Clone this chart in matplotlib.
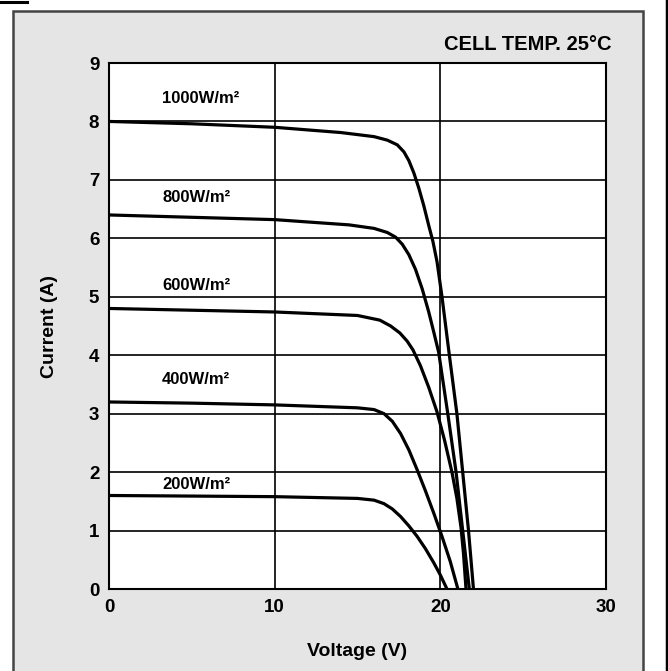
import matplotlib
matplotlib.use("Agg")
import matplotlib.pyplot as plt
from matplotlib.patches import Rectangle
from matplotlib.lines import Line2D

# ---- data ----
v_1000 = [0, 5, 10, 14, 16, 16.8, 17.4, 17.8, 18.1, 18.4, 18.7, 19.0, 19.3, 19.55, 19.8, 20.1, 20.5, 21.0, 21.35, 21.7, 22.0]
i_1000 = [8.0, 7.96, 7.9, 7.81, 7.74, 7.68, 7.6, 7.48, 7.33, 7.12, 6.86, 6.56, 6.22, 5.95, 5.6, 5.0, 4.1, 3.0, 2.0, 1.0, 0.0]

v_800 = [0, 5, 10, 14.5, 16, 16.8, 17.3, 17.7, 18.1, 18.5, 18.9, 19.3, 19.6, 19.9, 20.45, 20.95, 21.35, 21.75]
i_800 = [6.4, 6.36, 6.32, 6.23, 6.17, 6.1, 6.02, 5.9, 5.72, 5.47, 5.14, 4.74, 4.4, 4.05, 3.0, 2.0, 1.0, 0.0]

v_600 = [0, 5, 10, 15, 16.35, 17.0, 17.56, 18.0, 18.35, 18.8, 19.3, 19.8, 20.25, 20.7, 21.0, 21.25, 21.4, 21.55]
i_600 = [4.8, 4.77, 4.74, 4.68, 4.6, 4.5, 4.38, 4.24, 4.09, 3.82, 3.45, 3.03, 2.55, 2.0, 1.55, 1.05, 0.6, 0.0]

v_400 = [0, 5, 10, 15, 16, 16.6, 17.1, 17.6, 18.1, 18.6, 19.1, 19.6, 20.1, 20.6, 21.06]
i_400 = [3.2, 3.18, 3.15, 3.1, 3.07, 3.0, 2.87, 2.66, 2.38, 2.04, 1.68, 1.3, 0.9, 0.47, 0.0]

v_200 = [0, 5, 10, 15, 16, 16.6, 17.1, 17.6, 18.1, 18.6, 19.1, 19.6, 20.0, 20.4]
i_200 = [1.6, 1.59, 1.58, 1.55, 1.52, 1.46, 1.37, 1.24, 1.08, 0.9, 0.69, 0.45, 0.24, 0.0]

curve_labels = ["1000W/m\u00b2", "800W/m\u00b2", "600W/m\u00b2", "400W/m\u00b2", "200W/m\u00b2"]
label_y = [8.4, 6.7, 5.2, 3.58, 1.78]
x_ticks = [0, 10, 20, 30]
y_ticks = [0, 1, 2, 3, 4, 5, 6, 7, 8, 9]

FONT = ["Liberation Sans", "DejaVu Sans"]
plt.rcParams['font.family'] = FONT

fig = plt.figure(figsize=(6.68, 6.71), dpi=100)

# grey panel behind the chart
fig.patches.append(Rectangle((13/668, -0.05), 630/668, 0.05 + (1 - 11/671),
                             transform=fig.transFigure, facecolor="#e5e5e5",
                             edgecolor="#444444", linewidth=1.8, zorder=-10))
# decorative black lines
fig.lines.append(Line2D([0, 27/668], [1 - 1.5/671, 1 - 1.5/671], transform=fig.transFigure,
                        color="black", linewidth=2.2, zorder=-10))
fig.lines.append(Line2D([666.5/668, 666.5/668], [0, 1], transform=fig.transFigure,
                        color="black", linewidth=2.5, zorder=-10))

ax = fig.add_axes([109/668, 1 - 589/671, 497/668, 526/671])
ax.set_facecolor("white")

series = [(v_1000, i_1000), (v_800, i_800), (v_600, i_600), (v_400, i_400), (v_200, i_200)]
for v, i in series:
    ax.plot(v, i, color="black", linewidth=2.3, solid_joinstyle="round",
            solid_capstyle="butt", zorder=3)

for lab, y in zip(curve_labels, label_y):
    ax.text(3.2, y, lab, fontsize=12, fontweight="bold", ha="left", va="center", zorder=4)

ax.set_xlim(0, 30)
ax.set_ylim(0, 9)
ax.set_xticks(x_ticks)
ax.set_yticks(y_ticks)
ax.grid(True, color="black", linewidth=1.2)
ax.set_axisbelow(True)
ax.tick_params(length=0, labelsize=13.5, pad=7)
for lab in ax.get_xticklabels() + ax.get_yticklabels():
    lab.set_fontweight("bold")
for s in ax.spines.values():
    s.set_linewidth(1.5)

ax.set_xlabel("Voltage (V)", fontsize=14, fontweight="bold", labelpad=20)
ax.set_ylabel("Current (A)", fontsize=14, fontweight="bold", labelpad=22)

fig.text(612/668, 1 - 45/671, "CELL TEMP. 25\u00b0C", fontsize=14.5, fontweight="bold",
         ha="right", va="center")

fig.savefig("out.png", dpi=100)
